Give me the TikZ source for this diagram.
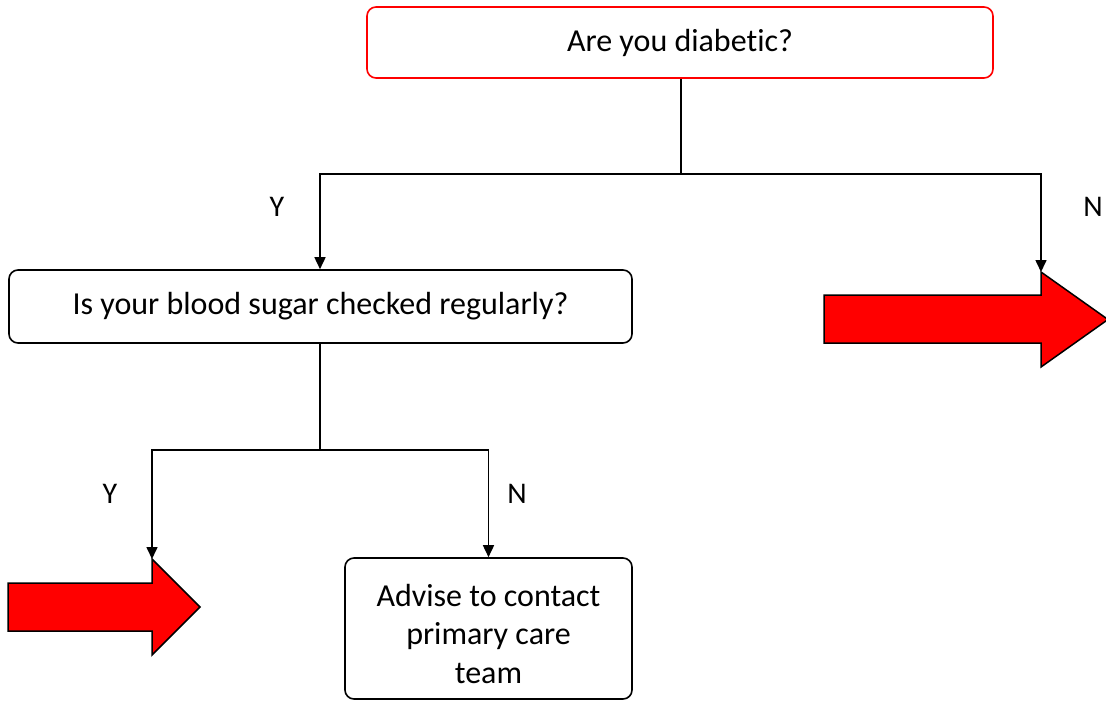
\documentclass[tikz,border=0pt]{standalone}
\usepackage{fontspec}
\setmainfont[Ligatures=CommonOff]{Carlito}
\usetikzlibrary{arrows.meta}
\begin{document}
\begin{tikzpicture}[x=1pt,y=-1pt,
  box/.style={draw=black,line width=1.6pt,rounded corners=9pt,fill=white,inner sep=0pt,font=\fontsize{32}{38.5}\selectfont,align=center},
  redbox/.style={box,draw=red},
  conn/.style={line width=1.6pt,-{Triangle[length=12pt,width=11pt]}},
  plain/.style={line width=1.6pt},
  bigarrow/.style={draw=black,line width=1.5pt,fill=red,line join=miter},
  lab/.style={font=\fontsize{30}{34}\selectfont}]
\useasboundingbox (0,0) rectangle (1106,701);
\clip (0,0) rectangle (1106,701);
\node[redbox,minimum width=626pt,minimum height=71pt] (q1) at (680,42.5) {Are you diabetic?};
\node[box,minimum width=623pt,minimum height=73pt] (q2) at (320.5,306.5) {Is your blood sugar checked regularly?};
\node[box,minimum width=287pt,minimum height=141pt] (adv) at (488.5,628.5) {};
\node (advt) at (488.5,683) [anchor=base,font=\fontsize{32}{38.5}\selectfont,align=center,inner sep=0pt] {Advise to contact\\primary care\\team};
% red arrows
\draw[bigarrow] (824,295) -- (1041,295) -- (1041,272) -- (1108,319.5) -- (1041,367) -- (1041,343) -- (824,343) -- cycle;
\coordinate (ra) at (1041,272);
\draw[bigarrow] (8,583) -- (152,583) -- (152,559) -- (200,607) -- (152,655) -- (152,631) -- (8,631) -- cycle;
\coordinate (la) at (152,559);
% connectors
\coordinate (j1) at (681,174);
\coordinate (j2) at (320,450);
\draw[plain] (q1.south -| j1) -- (j1);
\draw[conn] (j1) -| (q2.north -| 320,0);
\draw[conn] (j1) -| (ra);
\draw[plain] (q2.south -| j2) -- (j2);
\draw[conn] (j2) -| (la);
\draw[conn] (j2) -| (adv.north);
% labels
\node[lab] (y1) at (277,207) {Y};
\node[lab] (n1) at (1093,207) {N};
\node[lab] (y2) at (110,494) {Y};
\node[lab] (n2) at (517,494) {N};
\end{tikzpicture}
\end{document}
